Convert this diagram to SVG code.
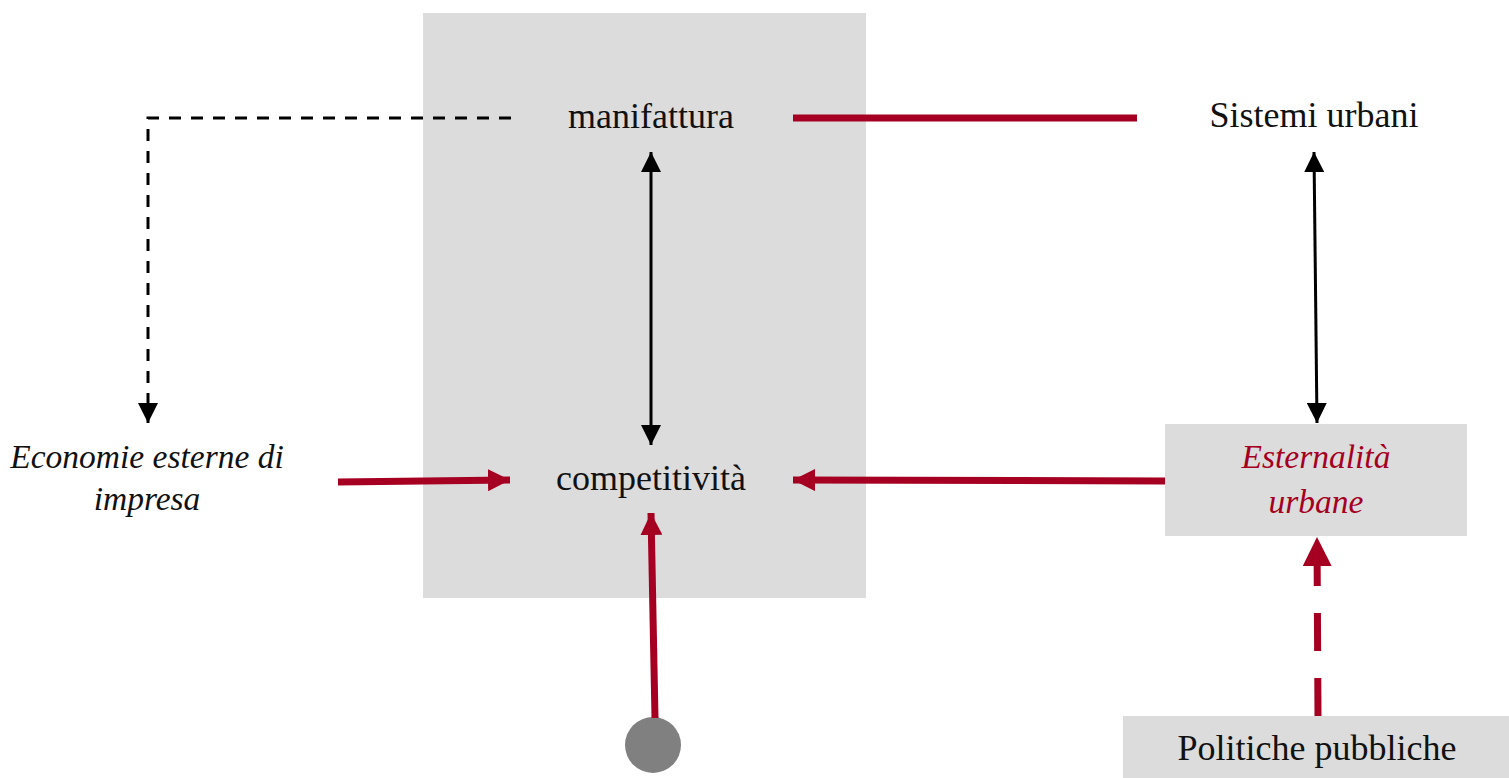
<svg xmlns="http://www.w3.org/2000/svg" width="1509" height="778" viewBox="0 0 1509 778">
  <style>
    .lbl { font-family: "Liberation Serif", "DejaVu Serif", serif; font-size: 36px; fill: #111; text-anchor: middle; }
    .it { font-style: italic; font-size: 33.5px; }
    .red { fill: #A50021; }
    .box { fill: #DCDCDC; }
    .blk { stroke: #000; stroke-width: 3; fill: none; }
    .rd { stroke: #A50021; stroke-width: 7; fill: none; }
  </style>
  <defs>
    <marker id="hb" viewBox="0 0 20 20" refX="20" refY="10" markerWidth="20" markerHeight="20" markerUnits="userSpaceOnUse" orient="auto-start-reverse">
      <path d="M0,0 L20,10 L0,20 Z" fill="#000"/>
    </marker>
    <marker id="hr" viewBox="0 0 22 22" refX="22" refY="11" markerWidth="22" markerHeight="22" markerUnits="userSpaceOnUse" orient="auto">
      <path d="M0,0 L22,11 L0,22 Z" fill="#A50021"/>
    </marker>
    <marker id="hrl" viewBox="0 0 29 29" refX="29" refY="14.5" markerWidth="29" markerHeight="29" markerUnits="userSpaceOnUse" orient="auto">
      <path d="M0,0 L29,14.5 L0,29 Z" fill="#A50021"/>
    </marker>
  </defs>

  <!-- shaded background panel -->
  <rect class="box" x="423" y="13" width="443" height="585"/>

  <g id="manifattura">
    <text class="lbl" x="651" y="128">manifattura</text>
  </g>
  <g id="competitivita">
    <text class="lbl" x="651" y="490">competitività</text>
  </g>
  <g id="sistemi-urbani">
    <text class="lbl" x="1314" y="127">Sistemi urbani</text>
  </g>
  <g id="economie-esterne">
    <text class="lbl it" x="147" y="468">Economie esterne di</text>
    <text class="lbl it" x="147" y="510">impresa</text>
  </g>
  <g id="esternalita-urbane">
    <rect class="box" x="1165" y="424" width="302" height="112"/>
    <text class="lbl it red" x="1316" y="468">Esternalità</text>
    <text class="lbl it red" x="1316" y="513">urbane</text>
  </g>
  <g id="politiche-pubbliche">
    <rect class="box" x="1123" y="716" width="386" height="62"/>
    <text class="lbl" x="1317" y="760">Politiche pubbliche</text>
  </g>
  <g id="source-dot">
    <circle cx="653" cy="745" r="28" fill="#808080"/>
  </g>

  <g id="connectors">
    <!-- manifattura to economie esterne, dashed -->
    <path class="blk" d="M511,118 H148 V423" stroke-width="3.5" stroke-dasharray="12 10" marker-end="url(#hb)"/>
    <!-- manifattura <-> competitività -->
    <line class="blk" x1="651" y1="152" x2="651" y2="445" marker-start="url(#hb)" marker-end="url(#hb)"/>
    <!-- manifattura — sistemi urbani -->
    <line class="rd" x1="793" y1="118" x2="1137" y2="118" stroke-width="6"/>
    <!-- sistemi urbani <-> esternalità -->
    <line class="blk" x1="1314" y1="152" x2="1317" y2="423" marker-start="url(#hb)" marker-end="url(#hb)"/>
    <!-- economie esterne to competitività -->
    <line class="rd" x1="338" y1="482" x2="510" y2="480" marker-end="url(#hr)"/>
    <!-- esternalità to competitività -->
    <line class="rd" x1="1165" y1="481" x2="793" y2="480" marker-end="url(#hr)"/>
    <!-- dot to competitività -->
    <line class="rd" x1="655" y1="718" x2="651" y2="513" marker-end="url(#hr)"/>
    <!-- politiche pubbliche to esternalità, dashed -->
    <line class="rd" x1="1318" y1="716" x2="1317" y2="537" stroke-width="10" stroke-dasharray="38 27" marker-end="url(#hrl)"/>
  </g>
</svg>
